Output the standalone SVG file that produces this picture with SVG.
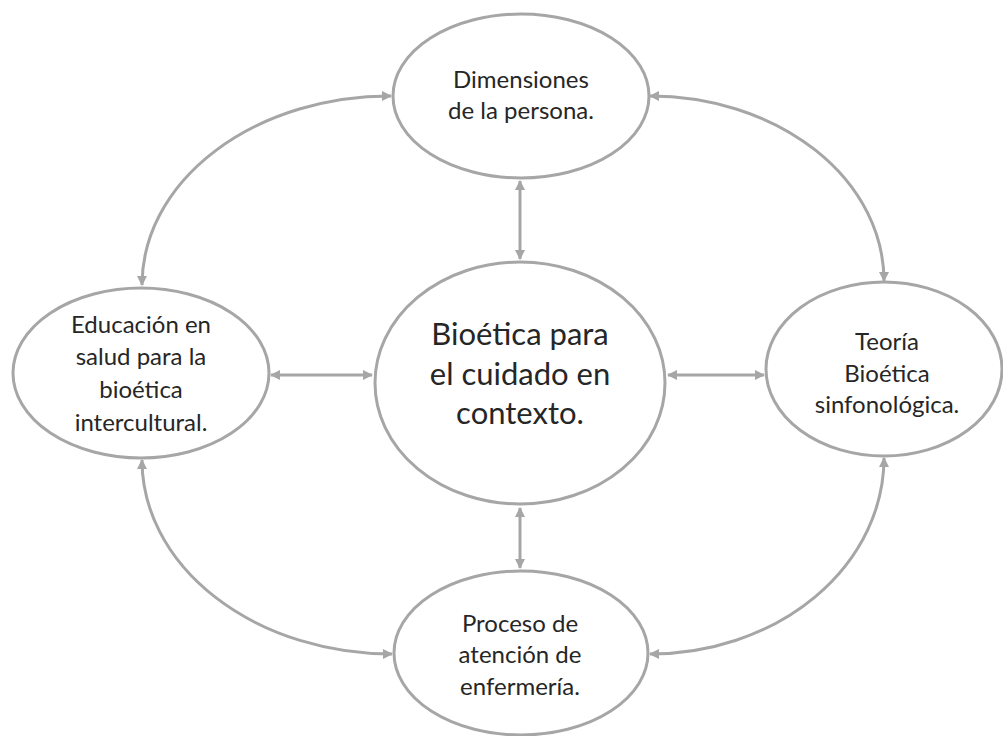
<svg xmlns="http://www.w3.org/2000/svg" width="1003" height="736" viewBox="0 0 1003 736">
<style>
.node ellipse{fill:#fff;stroke:#a6a6a6;stroke-width:3}
.node text{font-family:Lato,"Open Sans",sans-serif;fill:#262626;text-anchor:middle}
.sm{font-size:24px}
.lg{font-size:31px}
.conn path{fill:none;stroke:#a6a6a6;stroke-width:3;marker-start:url(#ah);marker-end:url(#ah)}
</style>
<defs>
<marker id="ah" viewBox="0 0 10 10" refX="9" refY="5" markerWidth="11" markerHeight="10" markerUnits="userSpaceOnUse" orient="auto-start-reverse">
<path d="M0,0 L10,5 L0,10 z" fill="#a6a6a6"/>
</marker>
</defs>
<rect width="1003" height="736" fill="#fff"/>
<g id="connectors" class="conn">
<path d="M520,181 L520,259"/>
<path d="M520,508 L520,568"/>
<path d="M271,375 L372,375"/>
<path d="M668,375 L764,375"/>
<path d="M142,285 A248,189 0 0 1 391,96"/>
<path d="M650,96 A234,185 0 0 1 884,281"/>
<path d="M142,460 A250,194 0 0 0 392,654"/>
<path d="M884,458 A234,196 0 0 1 650,654"/>
</g>
<g id="node-top" class="node">
<ellipse cx="521" cy="96" rx="128" ry="82"/>
<text class="sm" x="521" y="88">Dimensiones</text>
<text class="sm" x="521" y="119">de la persona.</text>
</g>
<g id="node-center" class="node">
<ellipse cx="520" cy="383" rx="145" ry="121"/>
<text class="lg" x="520" y="345">Bioética para</text>
<text class="lg" x="520" y="385">el cuidado en</text>
<text class="lg" x="520" y="424">contexto.</text>
</g>
<g id="node-left" class="node">
<ellipse cx="141" cy="373" rx="128" ry="85"/>
<text class="sm" x="141" y="333">Educación en</text>
<text class="sm" x="141" y="365">salud para la</text>
<text class="sm" x="141" y="398">bioética</text>
<text class="sm" x="141" y="431">intercultural.</text>
</g>
<g id="node-right" class="node">
<ellipse cx="884" cy="369" rx="118" ry="87"/>
<text class="sm" x="887" y="350">Teoría</text>
<text class="sm" x="887" y="382">Bioética</text>
<text class="sm" x="887" y="413">sinfonológica.</text>
</g>
<g id="node-bottom" class="node">
<ellipse cx="521" cy="653" rx="127" ry="82"/>
<text class="sm" x="520" y="632">Proceso de</text>
<text class="sm" x="520" y="663">atención de</text>
<text class="sm" x="520" y="695">enfermería.</text>
</g>
</svg>
